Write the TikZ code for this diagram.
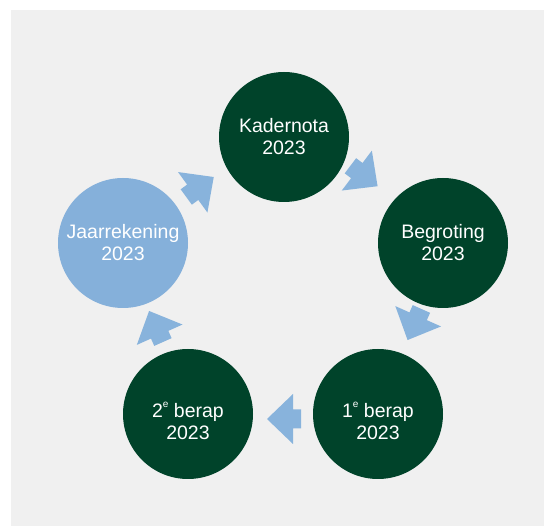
\documentclass[tikz,border=0pt]{standalone}
\usepackage{fontspec}
\setmainfont{Liberation Sans}
\usetikzlibrary{calc}
\definecolor{dkgreen}{RGB}{0,67,42}
\definecolor{ltblue}{RGB}{133,176,218}
\definecolor{arrblue}{RGB}{136,179,220}
\definecolor{bggray}{RGB}{240,240,240}
\newcommand\blockarrow[2]{\fill[arrblue, shift={#1}, rotate=#2] (17,0) -- (-9,25) -- (-9,9.5) -- (-17,9.5) -- (-17,-9.5) -- (-9,-9.5) -- (-9,-25) -- cycle;}
\newcommand\supe{\raisebox{0.5em}{\fontsize{10}{10}\selectfont e}}
\begin{document}
\begin{tikzpicture}[x=1pt,y=-1pt,
  circ/.style={circle, minimum size=130pt, inner sep=0pt, text=white, align=center, font=\fontsize{19.5}{22}\selectfont},
  dark/.style={circ, fill=dkgreen},
  light/.style={circ, fill=ltblue},
  lowtext/.style={label={[text=white, align=center, font=\fontsize{19.5}{22}\selectfont, yshift=-7pt]center:#1}}]
\fill[white] (0,0) rectangle (544,526);
\useasboundingbox (0,0) rectangle (544,526);
\fill[bggray] (11,10) rectangle (544,526);
\node[dark] (kad) at (284,137) {Kadernota\\2023};
\node[dark] (beg) at (443,243) {Begroting\\2023};
\node[dark, lowtext={1\supe\ berap\\2023}] (b1) at (378,414) {};
\node[dark, lowtext={2\supe\ berap\\2023}] (b2) at (188,414) {};
\node[light] (jaar) at (123,243) {Jaarrekening\\2023};
\blockarrow{($(kad)!0.5!(beg)+(0.5,-14)$)}{-37}
\blockarrow{($(beg)!0.5!(b1)+(4,-4)$)}{-114}
\blockarrow{($(b1)!0.5!(b2)+(1,5)$)}{180}
\blockarrow{($(b2)!0.5!(jaar)+(0.5,-2)$)}{114}
\blockarrow{($(jaar)!0.5!(kad)+(-3.5,-3)$)}{36}
\end{tikzpicture}
\end{document}
